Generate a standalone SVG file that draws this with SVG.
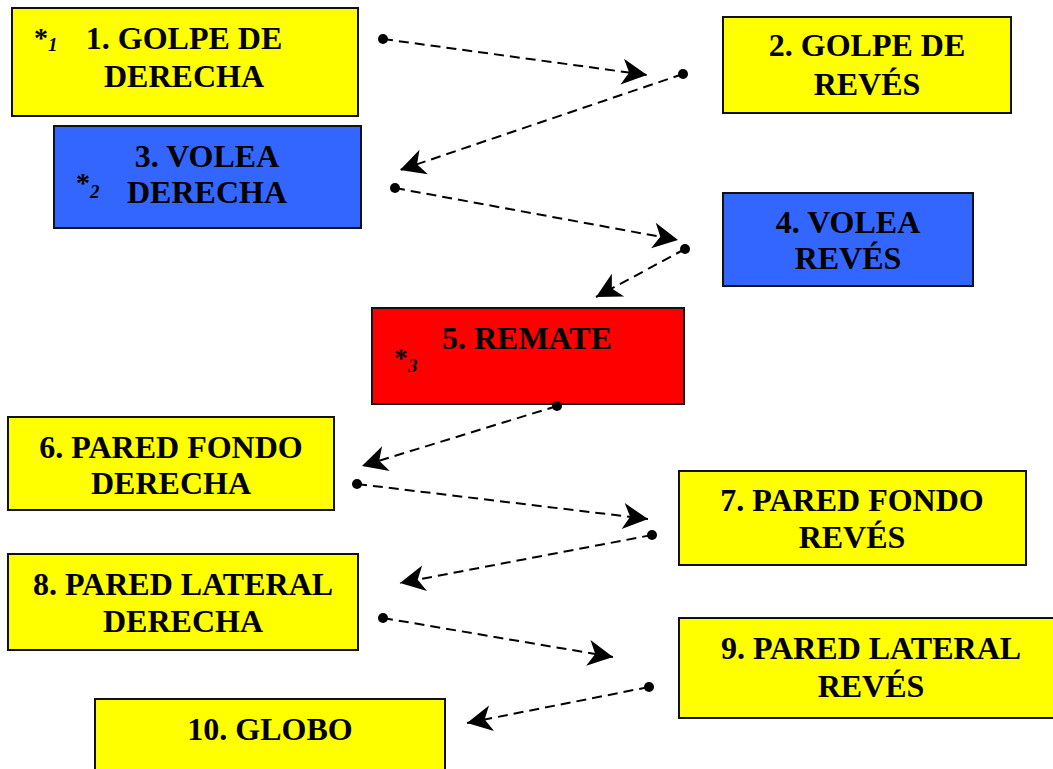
<svg xmlns="http://www.w3.org/2000/svg" width="1053" height="769" viewBox="0 0 1053 769">
<style>
.box{stroke:#111;stroke-width:2}
.y{fill:#ffff00}
.b{fill:#3366ff}
.r{fill:#ff0000}
.t{font-family:"Liberation Serif","Times New Roman",serif;font-weight:bold;font-size:32px;fill:#000;text-anchor:middle}
.ast{font-family:"Liberation Serif","Times New Roman",serif;font-weight:bold;font-size:28px;fill:#000}
.sub{font-style:italic;font-size:19px}
.c{fill:none;stroke:#000;stroke-width:2;stroke-dasharray:10 6;marker-start:url(#dot);marker-end:url(#arr)}
</style>
<defs>
<marker id="arr" markerUnits="userSpaceOnUse" viewBox="-28 -15 30 30" markerWidth="30" markerHeight="30" refX="0" refY="0" orient="auto">
<path d="M0,0 L-25,-13 L-18,0 L-25,13 Z" fill="#000"/>
</marker>
<marker id="dot" markerUnits="userSpaceOnUse" viewBox="-6 -6 12 12" markerWidth="12" markerHeight="12" refX="0" refY="0">
<circle cx="0" cy="0" r="5" fill="#000"/>
</marker>
</defs>
<rect width="1053" height="769" fill="#fff"/>

<g id="n1">
<rect class="box y" x="12" y="8" width="346" height="108"/>
<text class="t" x="184" y="49">1. GOLPE DE</text>
<text class="t" x="184" y="87">DERECHA</text>
<text class="ast" x="34" y="47">*<tspan class="sub" y="51">1</tspan></text>
</g>
<g id="n2">
<rect class="box y" x="723" y="17" width="288" height="96"/>
<text class="t" x="867" y="56">2. GOLPE DE</text>
<text class="t" x="867" y="95">REVÉS</text>
</g>
<g id="n3">
<rect class="box b" x="54" y="126" width="307" height="102"/>
<text class="t" x="207" y="167">3. VOLEA</text>
<text class="t" x="207" y="203">DERECHA</text>
<text class="ast" x="76" y="192">*<tspan class="sub" y="198">2</tspan></text>
</g>
<g id="n4">
<rect class="box b" x="723" y="193" width="250" height="93"/>
<text class="t" x="848" y="233">4. VOLEA</text>
<text class="t" x="848" y="269">REVÉS</text>
</g>
<g id="n5">
<rect class="box r" x="372" y="308" width="312" height="96"/>
<text class="t" x="527" y="349">5. REMATE</text>
<text class="ast" x="394" y="367">*<tspan class="sub" y="372">3</tspan></text>
</g>
<g id="n6">
<rect class="box y" x="8" y="417" width="326" height="93"/>
<text class="t" x="171" y="458">6. PARED FONDO</text>
<text class="t" x="171" y="494">DERECHA</text>
</g>
<g id="n7">
<rect class="box y" x="679" y="471" width="347" height="94"/>
<text class="t" x="852" y="511">7. PARED FONDO</text>
<text class="t" x="852" y="548">REVÉS</text>
</g>
<g id="n8">
<rect class="box y" x="8" y="554" width="350" height="96"/>
<text class="t" x="183" y="595">8. PARED LATERAL</text>
<text class="t" x="183" y="632">DERECHA</text>
</g>
<g id="n9">
<rect class="box y" x="679" y="618" width="384" height="100"/>
<text class="t" x="871" y="659">9. PARED LATERAL</text>
<text class="t" x="871" y="697">REVÉS</text>
</g>
<g id="n10">
<rect class="box y" x="95" y="699" width="350" height="90"/>
<text class="t" x="270" y="740">10. GLOBO</text>
</g>

<g id="connectors">
<line class="c" x1="383" y1="39" x2="647" y2="75"/>
<line class="c" x1="683" y1="74" x2="400" y2="170"/>
<line class="c" x1="395" y1="188" x2="678" y2="240"/>
<line class="c" x1="685" y1="249" x2="596" y2="297"/>
<line class="c" x1="557" y1="406" x2="362" y2="466"/>
<line class="c" x1="357" y1="484" x2="648" y2="519"/>
<line class="c" x1="652" y1="535" x2="400" y2="583"/>
<line class="c" x1="383" y1="618" x2="613" y2="657"/>
<line class="c" x1="649" y1="687" x2="467" y2="723"/>
</g>
</svg>
